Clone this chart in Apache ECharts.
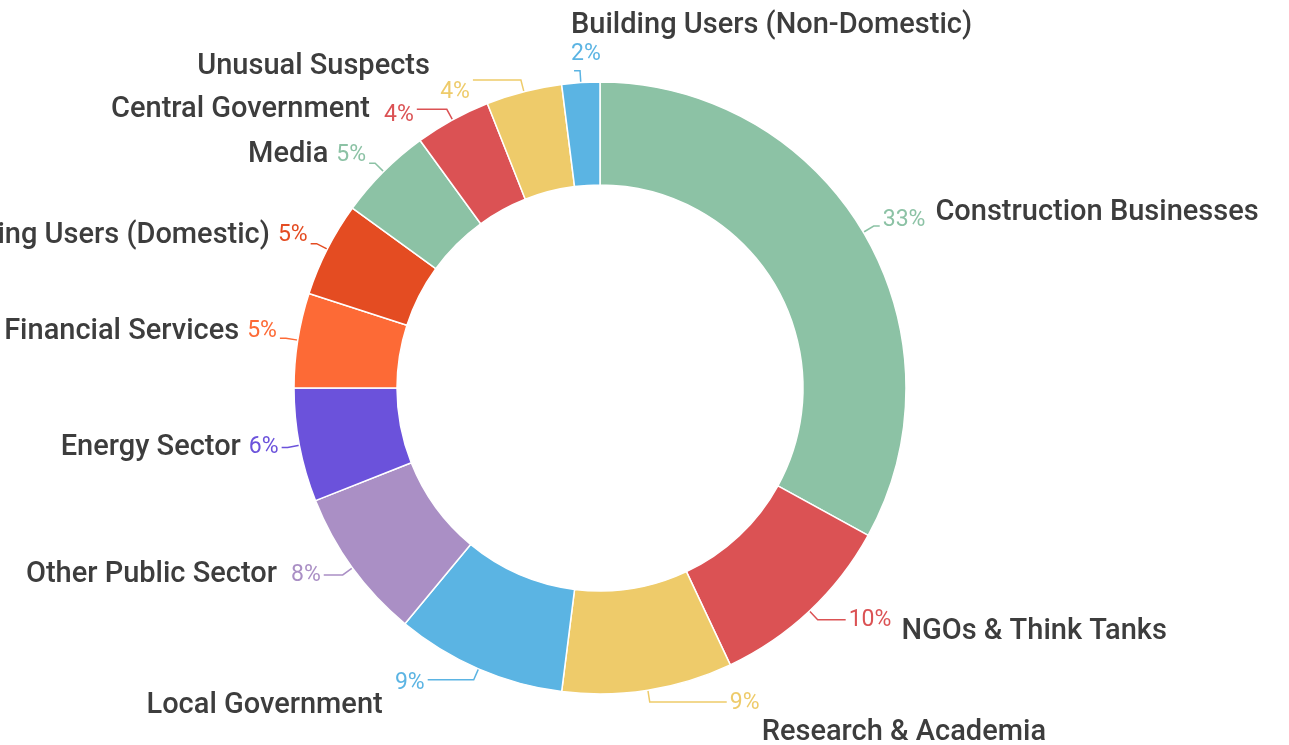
<!DOCTYPE html>
<html>
<head>
<meta charset="utf-8">
<script src="https://cdn.jsdelivr.net/npm/echarts@6/dist/echarts.min.js"></script>
<style>
  html, body { margin: 0; padding: 0; background: #fff; }
  #chart { width: 1289px; height: 745px; }
</style>
</head>
<body>
<div id="chart"></div>
<script>
// Stakeholder share, clockwise from 12 o'clock
const categories = [
  'Construction Businesses',
  'NGOs & Think Tanks',
  'Research & Academia',
  'Local Government',
  'Other Public Sector',
  'Energy Sector',
  'Financial Services',
  'Building Users (Domestic)',
  'Media',
  'Central Government',
  'Unusual Suspects',
  'Building Users (Non-Domestic)'
];
const shares = [33, 10, 9, 9, 8, 6, 5, 5, 5, 4, 4, 2];
const sliceColors = [
  '#8cc2a5', '#db5254', '#eecb6a', '#5bb4e3', '#aa8fc5', '#6b52db',
  '#fd6a36', '#e44c22', '#8cc2a5', '#db5254', '#eecb6a', '#5bb4e3'
];

// label line lengths and small vertical nudges, per slice
const lineLen = [12, 12, 12, 12, 12, 12, 12, 12, 12, 12, 12, 12];
const lineLen2 = [6, 28, 77, 46, 19, 6, 6, 6, 6, 30, 48, 6];
const nudgeY = [-13, 0, 16, 15, 0, 0, -7, -8, -8, 0, -3, -31];

const chart = echarts.init(document.getElementById('chart'));

function labelFor(i) {
  const rich = {
    p: { fontFamily: 'Roboto', fontSize: 23, color: sliceColors[i], lineHeight: 28 },
    n: { fontFamily: 'Roboto', fontSize: 29, fontWeight: 500, color: '#3d3d3d', lineHeight: 30 }
  };
  let formatter;
  if (i === 2) {
    formatter = '{p|{c}%}\n{n|{b}}';
    rich.n.padding = [2, 0, 0, 32];
  } else if (i === 3) {
    formatter = '{p|{c}%}\n{n|{b}}';
    rich.p.lineHeight = 22;
    rich.n.lineHeight = 24;
    rich.n.padding = [0, 42, 0, 0];
  } else if (i === 10) {
    formatter = '{n|{b}}\n{p|{c}%}';
    rich.p.lineHeight = 20;
    rich.n.padding = [0, 40, 0, 0];
  } else if (i === 11) {
    formatter = '{n|{b}}\n{p|{c}%}';
  } else if (i === 0) {
    formatter = '{p|{c}%}{n|{b}}';
    rich.p.padding = [14, 0, 0, 0];
    rich.n.padding = [0, 0, 0, 10];
  } else if (i === 1) {
    formatter = '{p|{c}%}{n|{b}}';
    rich.n.padding = [24, 0, 0, 10];
  } else {
    formatter = '{n|{b}}{p|{c}%}';
    const gap = (i === 4 || i === 9) ? 14 : 8;
    rich.n.padding = [0, gap, 0, 0];
    if (i === 9) rich.p.padding = [12, 0, 0, 0];
  }
  return { formatter, rich };
}

const option = {
  backgroundColor: '#ffffff',
  animation: false,
  series: [
    {
      type: 'pie',
      left: -400,
      right: -100,
      top: -100,
      bottom: -100,
      center: [1000, 488],
      radius: [203, 306],
      startAngle: 90,
      clockwise: true,
      avoidLabelOverlap: false,
      itemStyle: { borderColor: '#ffffff', borderWidth: 1.5 },
      label: { show: true, position: 'outside', distanceToLabelLine: 3 },
      labelLine: { show: true, lineStyle: { width: 1.5 } },
      labelLayout: function (params) {
        const out = { dy: nudgeY[params.dataIndex] };
        if (params.dataIndex === 11) out.align = 'left';
        return out;
      },
      data: categories.map((name, i) => ({
        name: name,
        value: shares[i],
        itemStyle: { color: sliceColors[i] },
        label: labelFor(i),
        labelLine: { length: lineLen[i], length2: lineLen2[i] }
      }))
    }
  ]
};

chart.setOption(option);
</script>
</body>
</html>
